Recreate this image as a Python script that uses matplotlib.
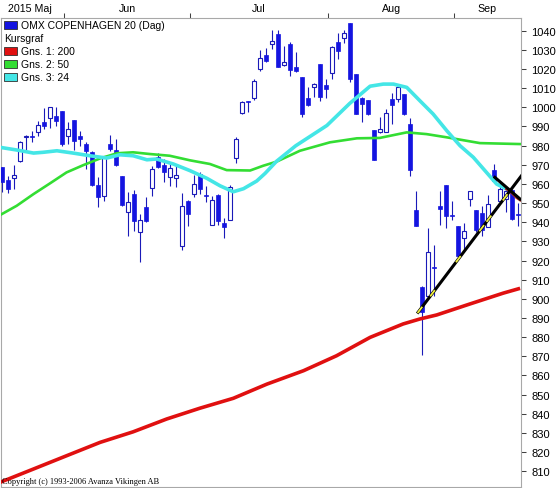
import matplotlib
matplotlib.use("Agg")
import matplotlib.pyplot as plt
from matplotlib.patches import Rectangle
import numpy as np

plt.rcParams['font.family'] = ['Liberation Sans', 'DejaVu Sans']

# daily candles, index 0 = mid May 2015 (trading days)
opens = [968.6, 962.2, 962.9, 972.1, 984.4, 985.0, 986.9, 992.4, 994.2, 995.2,
         998.2, 985.1, 993.3, 984.8, 980.8, 976.5, 959.4, 953.9, 980.8, 977.7,
         963.9, 945.2, 954.7, 934.7, 948.1, 957.7, 974.2, 969.8, 963.4, 962.9,
         927.8, 951.1, 954.7, 965.2, 954.2, 938.7, 954.2, 939.6, 941.3, 973.3,
         996.8, 1003.2, 1005.1, 1019.9, 1027.2, 1032.8, 1038.1, 1022.0, 1032.9, 1020.8,
         1015.9, 1005.1, 1010.4, 1022.5, 1011.6, 1017.8, 1034.1, 1035.9, 1043.9, 1017.3,
         1005.1, 1003.7, 988.1, 986.9, 987.2, 1004.3, 1004.3, 1006.9, 991.2, 946.4,
         906.1, 901.7, 916.3, 948.6, 959.4, 943.5, 937.9, 931.6, 952.1, 946.4,
         944.7, 937.7, 967.2, 951.2, 952.0, 957.0, 944.2]
highs = [969.0, 963.9, 969.8, 982.5, 985.5, 987.7, 993.0, 999.5, 999.9, 999.9,
         998.3, 992.1, 993.4, 987.7, 981.7, 977.3, 963.4, 974.8, 985.5, 983.4,
         964.0, 955.6, 956.8, 944.3, 953.3, 969.2, 975.9, 973.0, 970.9, 969.2,
         955.2, 951.5, 964.6, 966.4, 959.1, 953.5, 954.7, 942.0, 959.6, 984.3,
         1003.3, 1003.5, 1014.7, 1030.0, 1031.2, 1040.4, 1040.4, 1032.0, 1034.1, 1028.9,
         1016.0, 1010.4, 1012.6, 1022.7, 1015.0, 1031.9, 1038.7, 1040.4, 1044.0, 1017.3,
         1005.2, 1003.8, 988.2, 994.7, 999.0, 1007.7, 1010.9, 1007.0, 994.3, 956.4,
         906.5, 936.8, 928.1, 956.4, 959.5, 951.2, 938.0, 939.6, 956.5, 946.5,
         948.6, 954.2, 970.4, 961.1, 957.7, 957.1, 950.0]
lows = [955.6, 955.2, 957.3, 971.2, 977.3, 981.7, 985.1, 988.6, 989.0, 990.4,
        979.9, 980.8, 977.8, 979.9, 967.8, 958.7, 947.8, 951.2, 977.3, 969.5,
        948.6, 933.0, 935.6, 919.4, 940.0, 953.9, 968.5, 960.8, 959.1, 958.2,
        925.7, 938.2, 953.0, 954.7, 950.4, 938.5, 938.7, 931.6, 941.0, 970.9,
        996.5, 997.6, 1003.9, 1019.0, 1023.5, 1030.3, 1020.8, 1021.6, 1016.4, 1018.5,
        994.7, 1000.8, 1005.5, 1003.4, 1005.1, 1015.0, 1025.1, 1033.8, 1013.0, 996.4,
        992.4, 995.9, 972.5, 986.8, 987.0, 991.2, 1002.8, 995.9, 964.3, 938.0,
        870.8, 901.5, 901.7, 938.6, 936.8, 941.3, 922.0, 926.0, 948.3, 934.8,
        933.0, 937.5, 961.0, 951.0, 945.2, 941.3, 938.0]
closes = [960.8, 957.3, 964.6, 982.0, 984.8, 984.3, 990.7, 990.3, 999.9, 993.0,
          980.8, 988.6, 982.5, 983.4, 977.3, 959.4, 953.0, 974.7, 978.2, 969.8,
          949.0, 950.4, 940.8, 941.2, 940.5, 967.8, 969.0, 966.4, 968.3, 964.6,
          948.6, 944.3, 959.9, 957.3, 953.9, 951.6, 940.8, 937.3, 958.2, 983.4,
          1003.0, 1002.5, 1013.8, 1025.5, 1023.9, 1034.5, 1020.8, 1023.7, 1019.5, 1018.7,
          996.4, 1001.1, 1012.4, 1005.5, 1009.8, 1031.7, 1029.4, 1038.7, 1014.7, 996.4,
          1001.6, 996.4, 972.6, 988.6, 996.8, 1001.3, 1010.4, 996.4, 967.4, 938.2,
          893.4, 924.3, 916.1, 946.9, 943.4, 943.3, 922.2, 935.3, 956.4, 936.0,
          936.0, 949.5, 961.3, 957.3, 956.4, 941.5, 943.8]

month_labels = ["2015 Maj", "Jun", "Jul", "Aug", "Sep"]
month_first_day = [11, 32, 55, 76]  # first trading day of Jun, Jul, Aug, Sep

# moving averages (day index, value)
ma200_days = [-0.4, 5.2, 10.7, 16.3, 21.8, 27.4, 32.9, 38.5, 44.1, 50.2, 55.7,
              61.3, 66.8, 69.6, 72.4, 77.9, 83.5, 86.3]
ma200_vals = [804.2, 811.2, 818.1, 825.1, 830.6, 837.3, 842.9, 848.1, 855.5, 862.5,
              870.3, 879.9, 886.9, 889.5, 891.6, 897.3, 903.0, 905.5]
ma50_days = [-0.4, 2.4, 5.2, 8.0, 10.7, 13.5, 16.3, 19.1, 21.8, 24.6, 27.9, 31.3,
             34.6, 37.4, 41.3, 43.5, 45.7, 49.6, 54.6, 59.1, 62.9, 67.4, 70.7, 74.1,
             79.6, 86.3]
ma50_vals = [943.7, 948.6, 954.7, 960.4, 966.0, 969.8, 973.3, 976.0, 976.5, 975.6,
             974.7, 972.3, 970.4, 967.2, 967.0, 969.5, 971.6, 977.3, 981.7, 983.8,
             984.0, 986.9, 986.0, 984.3, 981.3, 980.8]
ma24_days = [-0.4, 2.4, 5.2, 6.8, 9.1, 11.8, 14.6, 17.4, 19.6, 21.8, 24.1, 25.7,
             28.5, 31.3, 34.1, 36.3, 38.5, 40.2, 42.4, 43.8, 45.7, 48.9, 54.1, 57.9,
             61.3, 63.5, 65.2, 67.4, 69.6, 71.8, 74.1, 76.3, 78.5, 80.7, 82.4, 84.1,
             84.6, 85.7, 86.3]
ma24_vals = [979.1, 977.7, 976.1, 976.5, 977.3, 976.1, 974.7, 973.5, 975.2, 974.7,
             972.6, 973.0, 970.4, 966.9, 962.9, 959.0, 955.9, 957.5, 961.5, 965.5,
             971.8, 979.9, 990.5, 1002.0, 1011.0, 1012.1, 1012.1, 1010.4, 1003.4, 996.5,
             987.7, 979.9, 973.9, 966.0, 959.9, 957.3, 956.4, 953.0, 951.7]

# drawn trend lines (day index, price)
trend_line = [(69.3, 893.0), (86.6, 964.6)]
cross_line = [(82.1, 963.4), (86.3, 952.1)]
trend_touch_days = [69.6, 71.7, 76.0, 79.9, 81.1, 83.8]

BLUE = '#1414e0'
EDGE = '#1a1ab8'
RED = '#e01010'
GREEN = '#33dd33'
CYAN = '#44e6e6'

W, H = 556, 489
fig = plt.figure(figsize=(W / 100, H / 100), dpi=100)
ax = fig.add_axes([1 / W, 1 / H, 519.7 / W, 469 / H])
ax.set_xlim(-0.22, 86.4)
ax.set_ylim(801.8, 1046.6)

days = np.arange(len(opens))
o = np.array(opens)
c = np.array(closes)
up = c >= o

# wicks then bodies
ax.vlines(days, lows, highs, color=EDGE, lw=0.8, zorder=2)
body_bottom = np.minimum(o, c)
body_height = np.maximum(np.abs(c - o), 0.35)
ax.bar(days[up], body_height[up], bottom=body_bottom[up], width=0.62,
       facecolor='white', edgecolor=EDGE, linewidth=0.8, zorder=3)
ax.bar(days[~up], body_height[~up], bottom=body_bottom[~up], width=0.68,
       facecolor=BLUE, edgecolor=BLUE, linewidth=0.5, zorder=3)

# moving averages
ax.plot(ma200_days, ma200_vals, color=RED, lw=2.6, zorder=4, solid_capstyle='butt')
ax.plot(ma50_days, ma50_vals, color=GREEN, lw=1.9, zorder=4)
ax.plot(ma24_days[:-3], ma24_vals[:-3], color=CYAN, lw=2.6, zorder=4)
ax.plot(ma24_days[-4:], ma24_vals[-4:], color='#b02828', lw=2.2, zorder=4)

# trend lines
(tx0, ty0), (tx1, ty1) = trend_line
ax.plot([tx0, tx1], [ty0, ty1], color='black', lw=2.2, zorder=5)
ax.plot([p[0] for p in cross_line], [p[1] for p in cross_line], color='black', lw=2.2, zorder=5)
slope = (ty1 - ty0) / (tx1 - tx0)
for d in trend_touch_days:
    xs = np.array([d - 0.3, d + 0.3])
    ax.plot(xs, ty0 + slope * (xs - tx0), color='#f0f040', lw=1.3, zorder=6)

# axes styling
for s in ax.spines.values():
    s.set_color('#a8a8a8')
    s.set_linewidth(0.8)

ax.yaxis.tick_right()
ax.set_yticks(np.arange(810, 1041, 10))
ax.tick_params(axis='y', direction='out', length=3.6, width=0.75, color='#404040',
               pad=4, labelsize=8)

ax.xaxis.tick_top()
bounds = [d - 0.7 for d in month_first_day]
ax.set_xticks(bounds)
ax.set_xticklabels([])
edges = [ax.get_xlim()[0]] + bounds + [ax.get_xlim()[1]]
centers = [(edges[k] + edges[k + 1]) / 2 for k in range(len(month_labels))]
centers[0] -= 0.5
ax.set_xticks(centers, minor=True)
ax.set_xticklabels(month_labels, minor=True)
ax.tick_params(axis='x', which='major', direction='out', length=3.6, width=0.75,
               color='#404040', top=True, bottom=False)
ax.tick_params(axis='x', which='minor', length=0, pad=3.5, labelsize=7.7,
               top=True, bottom=False)

# legend in the upper left corner
legend_rows = [("OMX COPENHAGEN 20 (Dag)", BLUE), ("Kursgraf", None),
               ("Gns. 1: 200", RED), ("Gns. 2: 50", GREEN), ("Gns. 3: 24", CYAN)]
for k, (label, col) in enumerate(legend_rows):
    yc = 25.7 + 13 * k
    if col is not None:
        fig.patches.append(Rectangle((4 / W, 1 - (yc + 4) / H), 13 / W, 8 / H,
                                     transform=fig.transFigure, facecolor=col,
                                     edgecolor='#303030', lw=0.6, zorder=10))
    tx = 20.7 if col is not None else 4
    fig.text(tx / W, 1 - (yc + 3.7) / H, label, fontsize=7.5, va='baseline',
             ha='left', zorder=10)

fig.text(2 / W, 1 - 484.5 / H, "Copyright (c) 1993-2006 Avanza Vikingen AB",
         fontsize=6, family='Liberation Serif', va='baseline', ha='left', zorder=10)

fig.savefig("out.png", dpi=100)
